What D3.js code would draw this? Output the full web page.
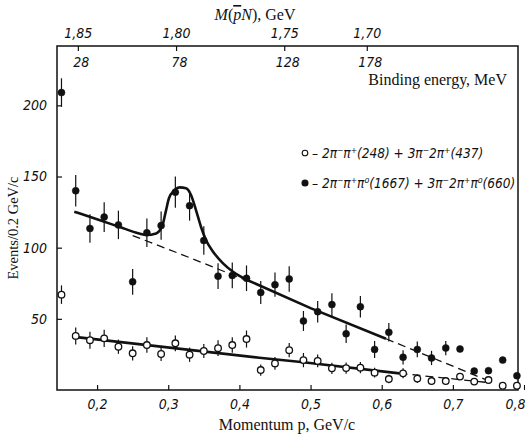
<!DOCTYPE html>
<html>
<head>
    <script src="https://d3js.org/d3.v7.min.js"></script>
    <style>
        body { margin: 0; background: #fff; }
        .tick text { font-family: "Liberation Sans Narrow", "DejaVu Sans Condensed", "DejaVu Sans", sans-serif; font-stretch: condensed; font-style: italic; font-size: 14px; fill: #111; }
        .tick line { stroke: #111; stroke-width: 1.2; }
        .title { font-family: "Liberation Serif", "DejaVu Serif", serif; font-size: 16px; fill: #111; }
        .legend { font-family: "Liberation Sans Narrow", "DejaVu Sans Condensed", "DejaVu Sans", sans-serif; font-stretch: condensed; font-style: italic; font-size: 13.5px; fill: #111; }
    </style>
</head>
<body>
<div id="chart"></div>
<script>
// momentum bins, GeV/c
const momentum = [0.15, 0.17, 0.19, 0.21, 0.23, 0.25, 0.27, 0.29, 0.31, 0.33, 0.35,
                  0.37, 0.39, 0.41, 0.43, 0.45, 0.47, 0.49, 0.51, 0.53, 0.55, 0.57,
                  0.59, 0.61, 0.63, 0.65, 0.67, 0.69, 0.71, 0.73, 0.75, 0.77, 0.79];
// filled: 2pi-pi+pi0 + 3pi-2pi+pi0
const filledVals = [209, 140, 113.5, 121.5, 116, 76, 110.5, 115.5, 139, 129.5, 105,
                    80, 80.5, 78.5, 68.5, 74, 78, 48.5, 55, 60, 39.5, 58.5,
                    28.5, 40.5, 23, 28.5, 22.5, 29.5, 28.8, 13.3, 13.6, 21, 10];
const filledErr = [10, 11, 10, 10.5, 10, 9, 10, 10, 11, 10.5, 10,
                   9, 9, 9, 8, 8.5, 9, 7, 7.5, 8, 6.5, 7.5,
                   6, 6.5, 5, 5.5, 5, 5, null, null, null, null, null];
// open: 2pi-pi+ + 3pi-2pi+
const openVals = [67, 38, 35, 36.3, 30.4, 25.8, 31.6, 25.3, 32.8, 24.8, 27.4,
                  29.4, 31.6, 35.8, 14, 18.7, 28, 21, 20.4, 15.2, 15.4, 15.7,
                  12.2, 7.7, 11.7, 8, 6.3, 6.3, 9.4, 5.9, 7, 3, 3];
const openErr = [6.5, 6, 6, 6, 5, 5, 5.5, 5, 5.5, 5, 5,
                 5.5, 5.5, 6, 4, 4.5, 5, 5, 4.5, 4, 4, 4,
                 3.5, 3, 3.5, 3, 2.5, 2.5, null, null, null, null, null];

// fitted curves [p, events]
const peakFit = [[0.168, 125.3], [0.203, 119.4], [0.231, 114.7], [0.259, 110.0], [0.269, 108.9],
                 [0.283, 110.0], [0.292, 115.9], [0.297, 126.4], [0.301, 134.7], [0.309, 140.5],
                 [0.316, 142.4], [0.325, 141.7], [0.332, 137.0], [0.339, 126.4], [0.346, 114.7],
                 [0.353, 105.4], [0.363, 97.2], [0.377, 89.0], [0.391, 83.1], [0.41, 77.5]];
const bgDashA = [[0.25, 108.5], [0.32, 95], [0.41, 77]];
const bgSolid = [[0.41, 77.5], [0.5, 57.5], [0.606, 36]];
const bgDashB = [[0.606, 36], [0.745, 7.5]];
const openSolid = [[0.165, 37.5], [0.428, 22.7], [0.49, 19.5], [0.625, 11.7]];
const openDash = [[0.625, 11.7], [0.752, 5.1]];

const xTicks = [0.2, 0.3, 0.4, 0.5, 0.6, 0.7, 0.8];
const yTicks = [50, 100, 150, 200];
const massLabels = ["1,85", "1,80", "1,75", "1,70"];
const bindLabels = ["28", "78", "128", "178"];
const topTickP = [0.173, 0.311, 0.463, 0.579];   // momentum under each top tick
const legendLabels = ["\u2013 2\u03c0\u207b\u03c0\u207a(248) + 3\u03c0\u207b2\u03c0\u207a(437)",
                      "\u2013 2\u03c0\u207b\u03c0\u207a\u03c0\u2070(1667) + 3\u03c0\u207b2\u03c0\u207a\u03c0\u2070(660)"];

const W = 525, H = 438;
const L = 57, R = 518, T = 46, B = 390;

const x = d3.scaleLinear().domain([0.1437, 0.7915]).range([L, R]);
const y = d3.scaleLinear().domain([0, 241.7]).range([B, T]);

const svg = d3.select("#chart").append("svg")
    .attr("width", W).attr("height", H);

// frame
svg.append("rect")
    .attr("x", L).attr("y", T).attr("width", R - L).attr("height", B - T)
    .attr("fill", "none").attr("stroke", "#111").attr("stroke-width", 1.5);

// bottom axis
const gx = svg.append("g").attr("transform", `translate(0,${B})`)
    .call(d3.axisBottom(x).tickValues(xTicks).tickSizeInner(-5).tickSizeOuter(0).tickPadding(9)
        .tickFormat(d => d3.format(".1f")(d).replace(".", ",")));
gx.select(".domain").remove();
// last label sits on the right edge, keep it inside the picture
gx.selectAll(".tick text").filter(d => d === 0.8).attr("text-anchor", "end").attr("dx", 1);

// left axis
const gy = svg.append("g").attr("transform", `translate(${L},0)`)
    .call(d3.axisLeft(y).tickValues(yTicks).tickSizeInner(-5).tickSizeOuter(0).tickPadding(10));
gy.select(".domain").remove();

// top axis, mass
const gt = svg.append("g").attr("transform", `translate(0,${T})`)
    .call(d3.axisTop(x).tickValues(topTickP).tickSizeInner(-5).tickSizeOuter(0).tickPadding(8)
        .tickFormat((d, i) => massLabels[i]));
gt.select(".domain").remove();

// binding energy labels under top edge
const gb = svg.append("g").attr("transform", `translate(3,${T})`)
    .call(d3.axisBottom(x).tickValues(topTickP).tickSize(0).tickPadding(11)
        .tickFormat((d, i) => bindLabels[i]));
gb.select(".domain").remove();

// titles
svg.append("text").attr("class", "title").attr("x", 255).attr("y", 20).attr("text-anchor", "middle")
    .html('<tspan font-style="italic">M</tspan>(<tspan font-style="italic" style="text-decoration: overline">p</tspan><tspan font-style="italic">N</tspan>), GeV');
svg.append("text").attr("class", "title").attr("x", 507).attr("y", 85).attr("text-anchor", "end")
    .text("Binding energy, MeV");
svg.append("text").attr("class", "title").attr("x", 287).attr("y", 430).attr("text-anchor", "middle")
    .text("Momentum p, GeV/c");
svg.append("text").attr("class", "title").attr("transform", "translate(18,228) rotate(-90)")
    .attr("text-anchor", "middle").style("font-size", "14.5px")
    .text("Events/0.2 GeV/c");

// curves
const line = d3.line().x(d => x(d[0])).y(d => y(d[1]));
const smooth = d3.line().x(d => x(d[0])).y(d => y(d[1])).curve(d3.curveMonotoneX);
const thick = 2.6;
svg.append("path").attr("d", smooth(peakFit)).attr("fill", "none").attr("stroke", "#111").attr("stroke-width", thick);
svg.append("path").attr("d", line(bgSolid)).attr("fill", "none").attr("stroke", "#111").attr("stroke-width", thick);
svg.append("path").attr("d", line(openSolid)).attr("fill", "none").attr("stroke", "#111").attr("stroke-width", thick);
[bgDashA, bgDashB, openDash].forEach(seg => {
    svg.append("path").attr("d", line(seg)).attr("fill", "none").attr("stroke", "#111")
        .attr("stroke-width", 1.3).attr("stroke-dasharray", "8,5");
});

// points with error bars
function drawSeries(vals, errs, open) {
    const data = momentum.map((p, i) => ({p: p, v: vals[i], e: errs[i]}));
    const g = svg.append("g");
    g.selectAll("line.err").data(data.filter(d => d.e !== null)).enter().append("line")
        .attr("x1", d => x(d.p)).attr("x2", d => x(d.p))
        .attr("y1", d => y(d.v + d.e)).attr("y2", d => y(d.v - d.e))
        .attr("stroke", "#111").attr("stroke-width", 1.2);
    g.selectAll("circle").data(data).enter().append("circle")
        .attr("cx", d => x(d.p)).attr("cy", d => y(d.v))
        .attr("r", open ? 3.3 : 3.5)
        .attr("fill", open ? "#fff" : "#111")
        .attr("stroke", "#111").attr("stroke-width", open ? 1.3 : 0.5);
}
drawSeries(openVals, openErr, true);
drawSeries(filledVals, filledErr, false);

// legend
const lg = svg.append("g");
[0, 1].forEach(i => {
    const ly = 153 + i * 30;
    lg.append("circle").attr("cx", 305).attr("cy", ly).attr("r", i === 0 ? 2.8 : 3)
        .attr("fill", i === 0 ? "#fff" : "#111").attr("stroke", "#111").attr("stroke-width", 1.1);
    lg.append("text").attr("class", "legend").attr("x", 312).attr("y", ly + 4.5).text(legendLabels[i]);
});
</script>
</body>
</html>
